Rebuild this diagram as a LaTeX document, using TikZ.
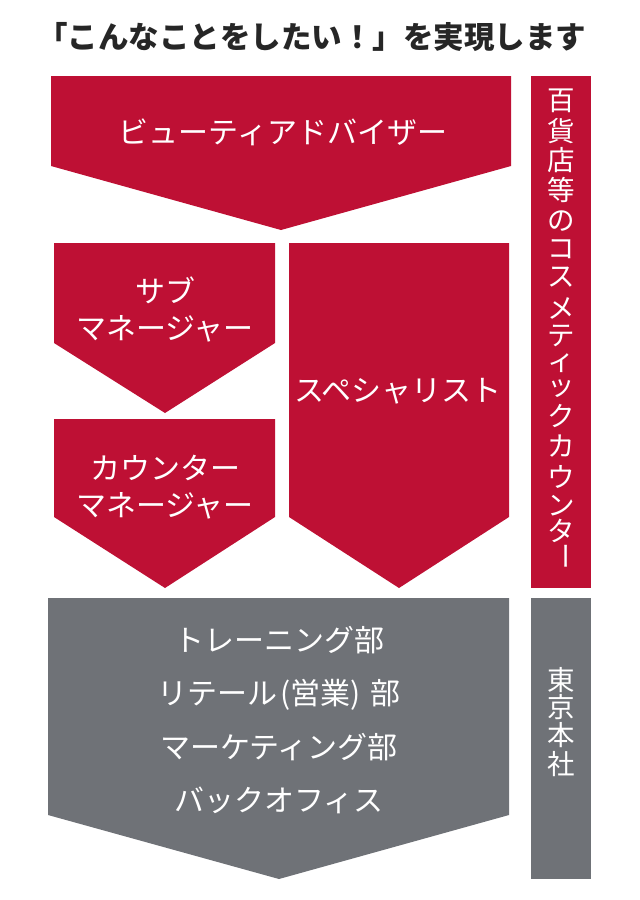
\documentclass[tikz,border=0pt]{standalone}
\usepackage{fontspec}
\setmainfont{Noto Sans CJK JP}
\definecolor{CounterRed}{RGB}{190,16,52}
\definecolor{OfficeGray}{RGB}{111,114,119}
\definecolor{TitleColor}{RGB}{38,38,38}
\usetikzlibrary{positioning}
\tikzstyle{boxtext} = [white, font=\fontsize{30}{37}\selectfont, align=center, inner sep=0pt]
\tikzstyle{vchar} = [white, font=\fontsize{27.5}{27.5}\selectfont, inner sep=0pt]

\begin{document}
\begin{tikzpicture}[x=1pt, y=-1pt]
    \useasboundingbox (0,0) rectangle (640,900);
    \node[TitleColor, font=\bfseries\fontsize{30.5}{30.5}\selectfont] (title) at (312,37) {「こんなことをしたい！」を実現します};

    % counter side
    \fill[CounterRed] (51,76) -- (511,76) -- (511,166) -- (281,230) -- (51,166) -- cycle;
    \node[boxtext] (advisor) at (283,132) {ビューティアドバイザー};

    \fill[CounterRed] (54,243) -- (275,243) -- (275,343) -- (165,413) -- (54,343) -- cycle;
    \node[boxtext] (submanager) at (165,309) {サブ\\マネージャー};

    \fill[CounterRed] (54,419) -- (275,419) -- (275,517) -- (165,588) -- (54,517) -- cycle;
    \node[boxtext] (countermanager) at (165,487) {カウンター\\マネージャー};

    \fill[CounterRed] (289,243) -- (509,243) -- (509,517) -- (399,588) -- (289,517) -- cycle;
    \node[boxtext] (specialist) at (398,391) {スペシャリスト};

    \fill[CounterRed] (531,76) rectangle (591,588);
    \foreach \c/\y [count=\i] in {百/101, 貨/131, 店/160, 等/190, の/221, コ/249, ス/277, メ/308, テ/336, ィ/363, ッ/389, ク/416, カ/446, ウ/477, ン/506, タ/531} {
        \node[vchar] (v\i) at (561,\y) {\c};
    }
    \node[vchar, rotate=-90] (v17) at (561,556) {ー};

    % head office
    \fill[OfficeGray] (48,598) -- (509,598) -- (509,815) -- (279,879) -- (48,815) -- cycle;
    \node[boxtext, font=\fontsize{30}{53.3}\selectfont] (departments) at (279,720) {トレーニング部\\リテール\hspace{3pt}(営業)\hspace{10pt}部\\マーケティング部\\バックオフィス};

    \fill[OfficeGray] (531,598) rectangle (591,879);
    \foreach \c/\y [count=\i] in {東/680, 京/707, 本/735, 社/764} {
        \node[vchar] (h\i) at (561,\y) {\c};
    }
\end{tikzpicture}
\end{document}
